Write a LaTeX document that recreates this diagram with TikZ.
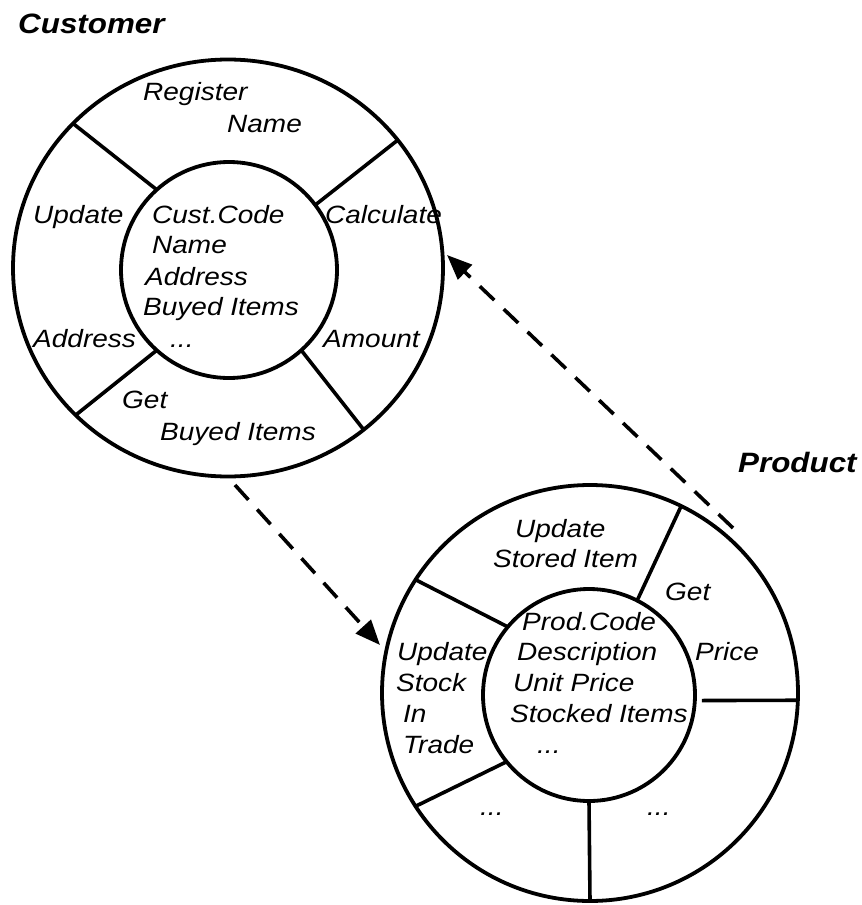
\documentclass[tikz,border=0pt]{standalone}
\usepackage{fontspec}
\newfontfamily\labfam[FakeStretch=1.12]{Liberation Sans}
\usetikzlibrary{arrows.meta,shapes.geometric}
\tikzset{
  ring/.style={draw, line width=3.8pt, inner sep=0pt, outer sep=0pt},
  divider/.style={line width=3.6pt},
  msg/.style={line width=3.6pt, dash pattern=on 20pt off 13pt,
              -{Triangle[length=25pt,width=20pt]}},
  lbl/.style={anchor=base west, inner sep=0pt,
              font=\labfam\itshape\fontsize{25}{30}\selectfont},
  ttl/.style={anchor=base west, inner sep=0pt,
              font=\labfam\bfseries\itshape\fontsize{28}{32}\selectfont}
}
\begin{document}
\begin{tikzpicture}[x=1pt, y=-1pt]
\useasboundingbox (0,0) rectangle (862,905);

% ---------- Customer object ----------
\node[ttl] (tCust) at (18,33) {Customer};
\node[ring, ellipse, minimum width=430pt, minimum height=417pt] (custOuter) at (228,268) {};
\node[ring, circle, minimum size=216pt] (custInner) at (229,270) {};

\draw[divider] (custInner.132) -- (custOuter.137);
\draw[divider] (custInner.37)  -- (custOuter.37);
\draw[divider] (custInner.-48) -- (custOuter.-50);
\draw[divider] (custInner.228) -- (custOuter.224);

\node[lbl] (cReg)   at (143,100) {Register};
\node[lbl] (cRegN)  at (227,132) {Name};
\node[lbl] (cUpd)   at (33,223)  {Update};
\node[lbl] (cAddr)  at (33,347)  {Address};
\node[lbl] (cCalc)  at (325,223) {Calculate};
\node[lbl] (cAmt)   at (323,347) {Amount};
\node[lbl] (cGet)   at (122,408) {Get};
\node[lbl] (cGetB)  at (160,440) {Buyed Items};

\node[lbl] (cCode)  at (152,223) {Cust.Code};
\node[lbl] (cName)  at (152,253) {Name};
\node[lbl] (cAdr)   at (145,285) {Address};
\node[lbl] (cBuy)   at (143,315) {Buyed Items};
\node[lbl] (cDots)  at (170,347) {...};

% ---------- Product object ----------
\node[ttl] (tProd) at (738,472) {Product};
\node[ring, circle, minimum size=416pt] (prodOuter) at (590,693) {};
\node[ring, circle, minimum size=212pt] (prodInner) at (589,695) {};

\draw[divider] (prodInner.63)  -- (prodOuter.64);
\draw[divider] (prodInner.140) -- (prodOuter.147);
\draw[divider] ([xshift=7pt]prodInner.-3) -- (prodOuter.-2);
\draw[divider] (prodInner.219) -- (prodOuter.213);
\draw[divider] (prodInner.-90) -- (prodOuter.-90);

\node[lbl] (pUpd)   at (515,537) {Update};
\node[lbl] (pStor)  at (493,567) {Stored Item};
\node[lbl] (pGet)   at (665,600) {Get};
\node[lbl] (pPrice) at (695,660) {Price};
\node[lbl] (pUpd2)  at (397,660) {Update};
\node[lbl] (pStock) at (396,691) {Stock};
\node[lbl] (pIn)    at (403,722) {In};
\node[lbl] (pTrade) at (403,753) {Trade};
\node[lbl] (pDotsL) at (480,815) {...};
\node[lbl] (pDotsR) at (647,815) {...};

\node[lbl] (pCode)  at (522,630) {Prod.Code};
\node[lbl] (pDesc)  at (517,660) {Description};
\node[lbl] (pUnit)  at (513,691) {Unit Price};
\node[lbl] (pStk)   at (510,722) {Stocked Items};
\node[lbl] (pDots)  at (537,753) {...};

% ---------- messages between the objects ----------
\coordinate (m1s) at (235,485);
\coordinate (m1e) at (380,645);
\coordinate (m2s) at (733,528);
\coordinate (m2e) at (447,255);
\draw[msg] (m1s) -- (m1e);
\draw[msg] (m2s) -- (m2e);
\end{tikzpicture}
\end{document}
